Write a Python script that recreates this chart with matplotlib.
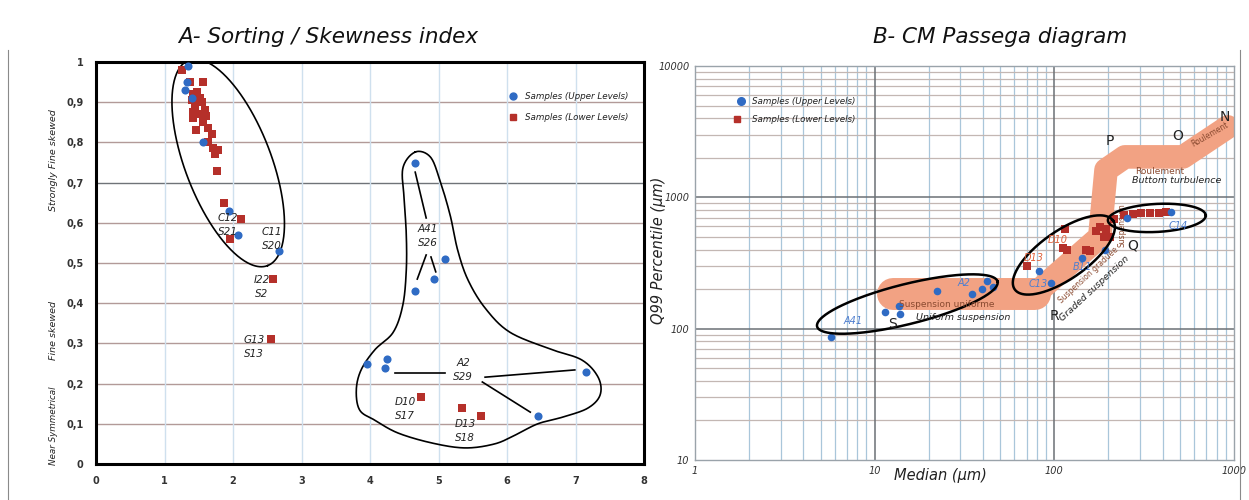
import numpy as np
import matplotlib
matplotlib.use("Agg")
import matplotlib.pyplot as plt
from matplotlib.lines import Line2D

# ---------------- data: panel A (sorting vs skewness) ----------------
a_upper_x = [1.34, 1.33, 1.30, 1.40, 1.56, 1.94, 2.07, 2.67, 4.66, 5.09, 4.93, 4.66, 3.95, 4.22, 4.25, 7.15, 6.45]
a_upper_y = [0.99, 0.95, 0.93, 0.91, 0.80, 0.63, 0.57, 0.53, 0.75, 0.51, 0.46, 0.43, 0.25, 0.24, 0.26, 0.23, 0.12]
a_lower_x = [1.25, 1.37, 1.56, 1.42, 1.47, 1.52, 1.40, 1.55, 1.45, 1.59, 1.42, 1.52, 1.61, 1.41, 1.56,
             1.64, 1.46, 1.70, 1.64, 1.71, 1.78, 1.74, 1.77, 1.87, 2.11, 1.95, 2.58, 2.55, 4.74, 5.35, 5.62]
a_lower_y = [0.98, 0.95, 0.95, 0.92, 0.925, 0.91, 0.905, 0.90, 0.89, 0.88, 0.875, 0.87, 0.865, 0.86, 0.85,
             0.835, 0.83, 0.82, 0.80, 0.787, 0.78, 0.77, 0.73, 0.65, 0.61, 0.56, 0.46, 0.31, 0.167, 0.14, 0.12]
a_xticks = [0, 1, 2, 3, 4, 5, 6, 7, 8]
a_yticks = [0, 0.1, 0.2, 0.3, 0.4, 0.5, 0.6, 0.7, 0.8, 0.9, 1.0]
a_yticklabels = ["0", "0,1", "0,2", "0,3", "0,4", "0,5", "0,6", "0,7", "0,8", "0,9", "1"]
a_labels = ["C12\nS21", "C11\nS20", "I22\nS2", "G13\nS13", "A41\nS26", "A2\nS29", "D10\nS17", "D13\nS18"]
a_label_x = [1.93, 2.57, 2.42, 2.31, 4.85, 5.36, 4.51, 5.39]
a_label_y = [0.595, 0.56, 0.44, 0.29, 0.567, 0.234, 0.137, 0.082]
a_leader_x0 = [4.66, 4.82, 4.89, 4.36, 5.68, 5.64]
a_leader_y0 = [0.726, 0.520, 0.515, 0.226, 0.216, 0.204]
a_leader_x1 = [4.82, 4.69, 4.96, 5.09, 6.99, 6.34]
a_leader_y1 = [0.612, 0.460, 0.478, 0.226, 0.234, 0.129]
# outline of the right-hand group (data units)
blob_x = [4.66, 4.88, 5.02, 5.17, 5.28, 5.43, 5.68, 6.04, 6.63, 7.09, 7.33, 7.36, 7.18, 6.82, 6.45, 6.12,
          5.82, 5.39, 4.91, 4.41, 4.07, 3.85, 3.80, 3.87, 4.07, 4.34, 4.48, 4.53, 4.53, 4.50, 4.48]
blob_y = [0.776, 0.764, 0.706, 0.619, 0.532, 0.458, 0.388, 0.328, 0.286, 0.259, 0.216, 0.172, 0.139, 0.117,
          0.100, 0.072, 0.050, 0.040, 0.052, 0.077, 0.109, 0.134, 0.184, 0.234, 0.284, 0.328, 0.396, 0.483,
          0.570, 0.657, 0.736]
a_ell_center = (1.93, 0.749)

# ---------------- data: panel B (CM Passega) ----------------
b_upper_x = [5.7, 11.4, 13.6, 13.9, 22.1, 34.6, 39.8, 42.4, 45.3, 82.6, 96, 143, 192, 255, 447]
b_upper_y = [86, 134, 150, 130, 195, 185, 202, 229, 206, 277, 224, 348, 394, 692, 768]
b_lower_x = [70, 115, 112, 118, 150, 158, 171, 180, 194, 188, 205, 215, 245, 275, 305, 340, 380, 420]
b_lower_y = [300, 570, 410, 400, 400, 390, 550, 590, 570, 500, 500, 680, 730, 745, 755, 760, 765, 770]
b_ticks_x = [1, 10, 100, 1000]
b_ticks_y = [10, 100, 1000, 10000]
band_x = [12.6, 78, 179, 194, 247, 520, 925]
band_y = [184, 184, 499, 1618, 2032, 2032, 3436]
b_ell_cx = [15.2, 113, 372]
b_ell_cy = [154, 364, 697]
b_letters = ["S", "R", "Q", "P", "O", "N"]
b_letter_x = [12.6, 99.5, 274, 204, 487, 890]
b_letter_y = [109, 125, 427, 2690, 2937, 4095]
b_blue_labels = ["A41", "A2", "C13", "B11", "C14"]
b_blue_lx = [7.57, 31.4, 81, 144, 487]
b_blue_ly = [114.6, 223, 219, 295, 606]
b_red_labels = ["D13", "D10"]
b_red_lx = [77, 105]
b_red_ly = [345, 474]

BLUE = "#2f6bc4"
RED = "#b5302a"
BAND = "#f2a283"
BROWN = "#8a4a30"

W, H = 1249, 500
fig = plt.figure(figsize=(W / 100, H / 100), dpi=100)

# ================= Panel A =================
axA = fig.add_axes([96 / W, 36 / H, 548 / W, 402 / H])
axA.set_xlim(0, 8)
axA.set_ylim(0, 1)
for v in [0.1, 0.2, 0.3, 0.4, 0.5, 0.6, 0.7, 0.8, 0.9]:
    col = "#6f7378" if v in (0.7,) else "#b29a98"
    axA.axhline(v, color=col, lw=1.0, zorder=0)
for v in range(1, 8):
    axA.axvline(v, color="#cfe0ee", lw=1.0, zorder=0)
for s in axA.spines.values():
    s.set_linewidth(2.2)
    s.set_color("black")
axA.set_xticks(a_xticks)
axA.set_xticklabels([str(t) for t in a_xticks], fontsize=7, fontweight="bold", color="#333333")
axA.set_yticks(a_yticks)
axA.set_yticklabels(a_yticklabels, fontsize=7, fontweight="bold", color="#333333")
axA.tick_params(length=0, pad=9)

axA.scatter(a_lower_x, a_lower_y, marker="s", s=26, color=RED, zorder=3, linewidths=0)
axA.scatter(a_upper_x, a_upper_y, marker="o", s=34, color=BLUE, zorder=4, linewidths=0)

# ellipse around first group (shape in pixel units)
ppu_x = 548 / 8.0
ppu_y = 402 / 1.0
t = np.linspace(0, 2 * np.pi, 300)
ang = np.deg2rad(-69)
ex = 110 * np.cos(t)
ey = 43 * np.sin(t)
rx = ex * np.cos(ang) - ey * np.sin(ang)
ry = ex * np.sin(ang) + ey * np.cos(ang)
axA.plot(a_ell_center[0] + rx / ppu_x, a_ell_center[1] + ry / ppu_y, color="black", lw=1.2, zorder=2)

# closed Catmull-Rom outline for second group
def closed_spline(xs, ys, n=24):
    P = np.c_[np.asarray(xs) * ppu_x, np.asarray(ys) * ppu_y]
    N = len(P)
    out = []
    tt = np.linspace(0, 1, n, endpoint=False)[:, None]
    for i in range(N):
        p0, p1, p2, p3 = P[i - 1], P[i], P[(i + 1) % N], P[(i + 2) % N]
        seg = 0.5 * ((2 * p1) + (-p0 + p2) * tt + (2 * p0 - 5 * p1 + 4 * p2 - p3) * tt ** 2
                     + (-p0 + 3 * p1 - 3 * p2 + p3) * tt ** 3)
        out.append(seg)
    out = np.vstack(out + [out[0][:1]])
    return out[:, 0] / ppu_x, out[:, 1] / ppu_y

bx, by = closed_spline(blob_x, blob_y)
axA.plot(bx, by, color="black", lw=1.2, zorder=2)

for x0, y0, x1, y1 in zip(a_leader_x0, a_leader_y0, a_leader_x1, a_leader_y1):
    axA.plot([x0, x1], [y0, y1], color="black", lw=1.2, zorder=2)

for lab, x, y in zip(a_labels, a_label_x, a_label_y):
    axA.text(x, y, lab, fontsize=7.5, style="italic", color="#222222", ha="center", va="center",
             linespacing=1.5, zorder=5)

axA.text(-0.077, 0.756, "Strongly Fine skewed", transform=axA.transAxes, rotation=90,
         fontsize=6.8, style="italic", ha="center", va="center", color="#222222")
axA.text(-0.077, 0.333, "Fine skewed", transform=axA.transAxes, rotation=90,
         fontsize=6.8, style="italic", ha="center", va="center", color="#222222")
axA.text(-0.077, 0.094, "Near Symmetrical", transform=axA.transAxes, rotation=90,
         fontsize=6.3, style="italic", ha="center", va="center", color="#222222")

axA.plot([0.761], [0.915], "o", ms=5, color=BLUE, transform=axA.transAxes, clip_on=False)
axA.text(0.783, 0.915, "Samples (Upper Levels)", transform=axA.transAxes, fontsize=6.3,
         style="italic", va="center", color="#222222")
axA.plot([0.761], [0.863], "s", ms=5, color=RED, transform=axA.transAxes, clip_on=False)
axA.text(0.783, 0.863, "Samples (Lower Levels)", transform=axA.transAxes, fontsize=6.3,
         style="italic", va="center", color="#222222")

fig.text(328 / W, 1 - 37 / H, "A- Sorting / Skewness index", fontsize=15.5, style="italic",
         ha="center", va="center", color="#111111")

# ================= Panel B =================
axB = fig.add_axes([695 / W, 40 / H, 539 / W, 394 / H])
axB.set_xscale("log")
axB.set_yscale("log")
axB.set_xlim(1, 1000)
axB.set_ylim(10, 10000)
for dec in [1, 10, 100]:
    for m in range(2, 10):
        axB.axvline(dec * m, color="#a9c6da", lw=0.9, zorder=0)
for dec in [10, 100, 1000]:
    for m in range(2, 10):
        axB.axhline(dec * m, color="#c3b7b3", lw=0.9, zorder=0)
for v in [10, 100]:
    axB.axvline(v, color="#6b7075", lw=1.1, zorder=0)
for v in [100, 1000]:
    axB.axhline(v, color="#6b7075", lw=1.1, zorder=0)
for s in axB.spines.values():
    s.set_color("#9aa3aa")
    s.set_linewidth(1.0)
axB.set_xticks(b_ticks_x)
axB.set_xticklabels([str(t) for t in b_ticks_x], fontsize=7, style="italic", color="#333333")
axB.set_yticks(b_ticks_y)
axB.set_yticklabels([str(t) for t in b_ticks_y], fontsize=7, style="italic", color="#333333")
axB.minorticks_off()
axB.tick_params(length=0, pad=4)

# Passega band
axB.plot(band_x[:2], band_y[:2], color=BAND, lw=23, solid_capstyle="round", zorder=1)
axB.plot(band_x[1:], band_y[1:], color=BAND, lw=17, solid_capstyle="round",
         solid_joinstyle="round", zorder=1)

axB.scatter(b_lower_x, b_lower_y, marker="s", s=30, color=RED, zorder=3, linewidths=0)
axB.scatter(b_upper_x, b_upper_y, marker="o", s=30, color=BLUE, zorder=4, linewidths=0)

ppd_x = 539 / 3.0
ppd_y = 394 / 3.0
ell_params = [(93, 20, 14), (60, 24, 35), (49, 14, 3)]
for cx, cy, (a, b, an) in zip(b_ell_cx, b_ell_cy, ell_params):
    th = np.deg2rad(an)
    ex = a * np.cos(t)
    ey = b * np.sin(t)
    rx = ex * np.cos(th) - ey * np.sin(th)
    ry = ex * np.sin(th) + ey * np.cos(th)
    axB.plot(10 ** (np.log10(cx) + rx / ppd_x), 10 ** (np.log10(cy) + ry / ppd_y),
             color="black", lw=1.8, zorder=5)

for lab, x, y in zip(b_letters, b_letter_x, b_letter_y):
    axB.text(x, y, lab, fontsize=10, color="#222222", ha="center", va="center", zorder=6)
for lab, x, y in zip(b_blue_labels, b_blue_lx, b_blue_ly):
    axB.text(x, y, lab, fontsize=7, style="italic", color="#4f7fd0", ha="center", va="center", zorder=6)
for lab, x, y in zip(b_red_labels, b_red_lx, b_red_ly):
    axB.text(x, y, lab, fontsize=7, style="italic", color="#e0603a", ha="center", va="center", zorder=6)

axB.text(25.3, 154, "Suspension uniforme", fontsize=6.5, color=BROWN, ha="center", va="center", zorder=6)
axB.text(31, 121, "Uniform suspension", fontsize=6.8, style="italic", color="#222222",
         ha="center", va="center", zorder=6)
axB.text(168, 201, "Graded suspension", fontsize=6.8, style="italic", color="#222222",
         rotation=43, ha="center", va="center", zorder=6)
axB.text(154, 256, "Suspension graduée", fontsize=5.5, color=BROWN, rotation=43,
         ha="center", va="center", zorder=6)
axB.text(238, 617, "Suspension", fontsize=5.5, color=BROWN, rotation=90,
         ha="center", va="center", zorder=2)
axB.text(387, 1560, "Roulement", fontsize=6.5, color=BROWN, ha="center", va="center", zorder=6)
axB.text(481, 1334, "Buttom turbulence", fontsize=6.8, style="italic", color="#222222",
         ha="center", va="center", zorder=6)
axB.text(735, 2986, "Roulement", fontsize=5.5, color=BROWN, rotation=30,
         ha="center", va="center", zorder=6)

axB.plot([0.085], [0.911], "o", ms=5.5, color=BLUE, transform=axB.transAxes, clip_on=False)
axB.text(0.106, 0.911, "Samples (Upper Levels)", transform=axB.transAxes, fontsize=6.3,
         style="italic", va="center", color="#222222")
axB.plot([0.078], [0.865], "s", ms=5, color=RED, transform=axB.transAxes, clip_on=False)
axB.text(0.106, 0.865, "Samples (Lower Levels)", transform=axB.transAxes, fontsize=6.3,
         style="italic", va="center", color="#222222")

axB.text(0.455, -0.04, "Median (µm)", transform=axB.transAxes, fontsize=10.5, style="italic",
         ha="center", va="center", color="#222222")
axB.text(-0.068, 0.533, "Q99 Percentile (µm)", transform=axB.transAxes, fontsize=10.5,
         style="italic", rotation=90, ha="center", va="center", color="#222222")

fig.text(1000 / W, 1 - 37 / H, "B- CM Passega diagram", fontsize=15.5, style="italic",
         ha="center", va="center", color="#111111")

# outer frame lines
fig.add_artist(Line2D([8 / W, 8 / W], [0, 1 - 50 / H], color="#8a8a8a", lw=0.8))
fig.add_artist(Line2D([1240 / W, 1240 / W], [0, 1 - 50 / H], color="#8a8a8a", lw=0.8))

fig.savefig("out.png", dpi=100)
